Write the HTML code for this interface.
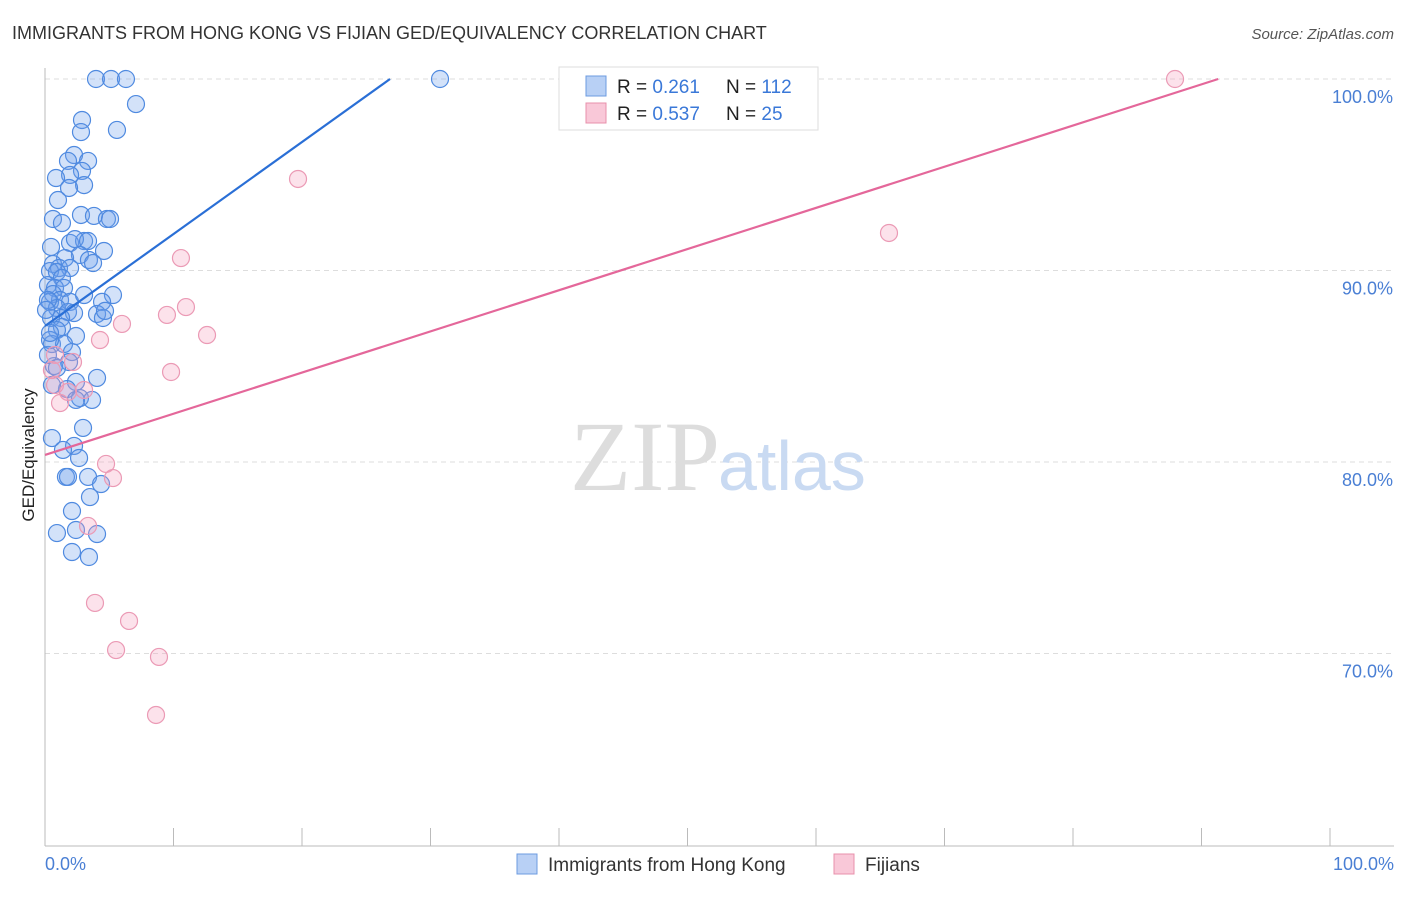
<!DOCTYPE html>
<html><head><meta charset="utf-8"><style>
body{margin:0;background:#fff;font-family:"Liberation Sans",sans-serif;}
svg text{font-family:"Liberation Sans",sans-serif;}
</style></head><body>
<svg width="1406" height="892" xmlns="http://www.w3.org/2000/svg" id="chart">
<text x="12" y="39" font-size="18" fill="#333">IMMIGRANTS FROM HONG KONG VS FIJIAN GED/EQUIVALENCY CORRELATION CHART</text>
<text x="1394" y="39" font-size="15" fill="#555" text-anchor="end" font-style="italic">Source: ZipAtlas.com</text>
<g id="grid"></g>
<text x="720" y="490" font-size="100" fill="#ddd" text-anchor="end" font-family="Liberation Serif" style="font-family:'Liberation Serif',serif">ZIP</text>
<text x="718" y="490" font-size="70" fill="#c9daf2">atlas</text>
<line x1="45" y1="68" x2="45" y2="846" stroke="#bbb"/>
<line x1="45" y1="846" x2="1394" y2="846" stroke="#bbb"/>
<g id="xticks"></g>
<text x="45" y="870" font-size="18" fill="#4a7fd4">0.0%</text>
<text x="1394" y="870" font-size="18" fill="#4a7fd4" text-anchor="end">100.0%</text>
<text transform="translate(34,455) rotate(-90)" font-size="17" fill="#222" text-anchor="middle">GED/Equivalency</text>
<g id="pts"></g>
<g id="lines"></g>
<g>
<rect x="559" y="67" width="259" height="63" fill="#fff" stroke="#ddd"/>
<rect x="586" y="76" width="20" height="20" fill="#b8d0f5" stroke="#6c9be0"/>
<rect x="586" y="103" width="20" height="20" fill="#f9c8d8" stroke="#e890ab"/>
<text x="617" y="93" font-size="19" fill="#222">R = <tspan fill="#3a78d8">0.261</tspan><tspan x="726">N = </tspan><tspan fill="#3a78d8">112</tspan></text>
<text x="617" y="120" font-size="19" fill="#222">R = <tspan fill="#3a78d8">0.537</tspan><tspan x="726">N = </tspan><tspan fill="#3a78d8"> 25</tspan></text>
</g>
<g>
<rect x="517" y="854" width="20" height="20" fill="#b8d0f5" stroke="#6c9be0"/>
<text x="548" y="871" font-size="19" fill="#333">Immigrants from Hong Kong</text>
<rect x="834" y="854" width="20" height="20" fill="#f9c8d8" stroke="#e890ab"/>
<text x="865" y="871" font-size="19" fill="#333">Fijians</text>
</g>
</svg>
<script>
const yTicks=[100,90,80,70];
const yTickLabels=["100.0%","90.0%","80.0%","70.0%"];
const xTickVals=[0,10,20,30,40,50,60,70,80,90,100];
const bluePx=[[96,79],[111,79],[126,79],[440,79],[136,104],[82,120],[81,132],[117,130],[74,155],[88,161],[68,161],[82,171],[70,175],[56,178],[84,185],[69,188],[58,200],[53,219],[62,223],[81,215],[94,216],[107,219],[110,219],[70,243],[84,241],[75,239],[88,241],[104,251],[51,247],[80,255],[89,260],[93,263],[65,258],[53,264],[59,268],[70,268],[50,271],[57,272],[62,278],[48,285],[55,288],[64,288],[53,294],[60,300],[70,302],[84,295],[113,295],[102,302],[50,302],[57,308],[68,312],[74,313],[61,318],[97,314],[103,318],[105,311],[51,318],[62,327],[57,330],[76,336],[52,344],[64,344],[72,352],[69,362],[54,366],[48,355],[57,368],[97,378],[76,382],[67,389],[52,385],[80,398],[92,400],[76,400],[83,428],[52,438],[74,446],[63,450],[79,458],[66,477],[68,477],[88,477],[101,484],[90,497],[72,511],[57,533],[76,530],[97,534],[72,552],[89,557],[50,340],[48,300],[46,310],[50,333]];
const pinkPx=[[1175,79],[298,179],[889,233],[181,258],[186,307],[167,315],[122,324],[207,335],[100,340],[55,355],[73,362],[171,372],[55,385],[68,392],[60,403],[84,390],[106,464],[113,478],[88,526],[95,603],[129,621],[116,650],[159,657],[156,715],[52,370]];
// convert read pixel positions to data values
const blueX=bluePx.map(p=>+((p[0]-45)/12.85).toFixed(2));
const blueY=bluePx.map(p=>+(100-(p[1]-79)/19.15).toFixed(2));
const pinkX=pinkPx.map(p=>+((p[0]-45)/12.85).toFixed(2));
const pinkY=pinkPx.map(p=>+(100-(p[1]-79)/19.15).toFixed(2));
const blueLine=[[0,87.1],[26.85,100]];
const pinkLine=[[0,80.37],[91.3,100]];
const NS="http://www.w3.org/2000/svg";
const sx=v=>45+v*12.85, sy=v=>79+(100-v)*19.15;
const grid=document.getElementById('grid');
yTicks.forEach((t,i)=>{
 const l=document.createElementNS(NS,'line');
 l.setAttribute('x1',45);l.setAttribute('x2',1394);l.setAttribute('y1',sy(t));l.setAttribute('y2',sy(t));
 l.setAttribute('stroke','#ddd');l.setAttribute('stroke-dasharray','5,4');
 
 
 grid.appendChild(l);
 const tx=document.createElementNS(NS,'text');
 tx.setAttribute('x',1393);tx.setAttribute('y',sy(t)+24);tx.setAttribute('font-size','18');tx.setAttribute('fill','#4a7fd4');tx.setAttribute('text-anchor','end');
 tx.textContent=yTickLabels[i];
 
 
 grid.appendChild(tx);
});
const xt=document.getElementById('xticks');
xTickVals.forEach(v=>{
 const l=document.createElementNS(NS,'line');
 l.setAttribute('x1',sx(v));l.setAttribute('x2',sx(v));l.setAttribute('y1',828);l.setAttribute('y2',846);l.setAttribute('stroke','#bbb');
 
 
 xt.appendChild(l);
});
const pts=document.getElementById('pts');
function dot(x,y,fill,stroke,name){
 const c=document.createElementNS(NS,'circle');
 c.setAttribute('cx',sx(x));c.setAttribute('cy',sy(y));c.setAttribute('r',8.5);
 c.setAttribute('fill',fill);c.setAttribute('stroke',stroke);c.setAttribute('stroke-width','1.2');
 
 
 pts.appendChild(c);
}
blueX.forEach((x,i)=>dot(x,blueY[i],'rgba(110,160,235,0.3)','#4f8ae0','point-hong-kong'));
pinkX.forEach((x,i)=>dot(x,pinkY[i],'rgba(245,160,190,0.3)','#eb9ab5','point-fijian'));
const lines=document.getElementById('lines');
function ln(a,col,name){
 const l=document.createElementNS(NS,'line');
 l.setAttribute('x1',sx(a[0][0]));l.setAttribute('y1',sy(a[0][1]));l.setAttribute('x2',sx(a[1][0]));l.setAttribute('y2',sy(a[1][1]));
 l.setAttribute('stroke',col);l.setAttribute('stroke-width','2.2');
 
 
 lines.appendChild(l);
}
ln(blueLine,'#2a6fd6','trend-line-hong-kong');
ln(pinkLine,'#e4679a','trend-line-fijian');
</script>
</body></html>
